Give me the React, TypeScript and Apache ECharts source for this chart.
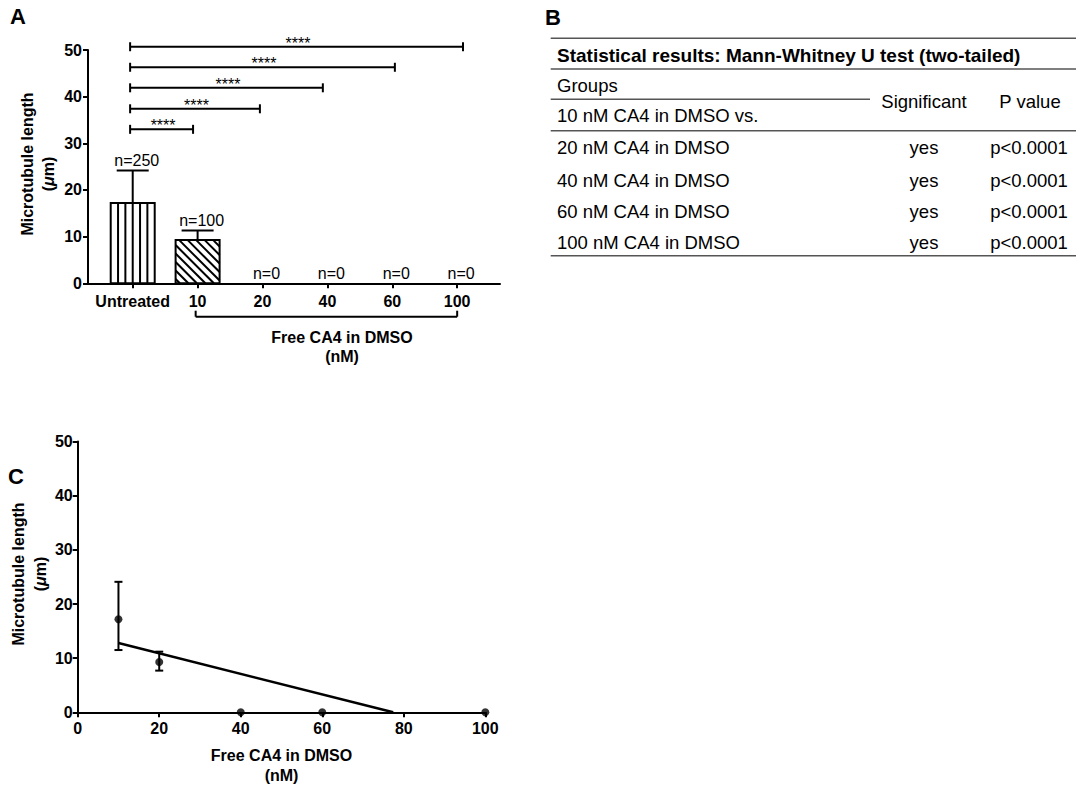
import React, { useEffect, useRef } from 'react';
import * as echarts from 'echarts';

const FONT = '"Liberation Sans", Arial, Helvetica, sans-serif';

// ---------- Panel A data ----------
const categories = ['Untreated', '10', '20', '40', '60', '100'];
const barMeans = [17.2, 9.3, 0, 0, 0, 0];
const barErrTop = [24.2, 11.3, 0, 0, 0, 0];
const barPatterns = ['vertical', 'diagonal', 'none', 'none', 'none', 'none'];
const nLabels = ['n=250', 'n=100', 'n=0', 'n=0', 'n=0', 'n=0'];
const yTicksA = [0, 10, 20, 30, 40, 50];
const sigStart = [-0.04, -0.04, -0.04, -0.04, -0.04];
const sigEnd = [0.93, 1.96, 2.93, 4.04, 5.09];
const sigY = [33.0, 37.4, 41.9, 46.3, 50.7];
const sigText = ['****', '****', '****', '****', '****'];
const groupSpan = [0.97, 5.0];
const xTitle = ['Free CA4 in DMSO', '(nM)'];
const yTitle = ['Microtubule length', '({i|μ}m)'];

// ---------- Panel B data ----------
const tableTitle = 'Statistical results: Mann-Whitney U test (two-tailed)';
const headGroups = 'Groups';
const headRef = '10 nM CA4 in DMSO vs.';
const headSig = 'Significant';
const headP = 'P value';
const compRows = ['20 nM CA4 in DMSO', '40 nM CA4 in DMSO', '60 nM CA4 in DMSO', '100 nM CA4 in DMSO'];
const compSig = ['yes', 'yes', 'yes', 'yes'];
const compP = ['p<0.0001', 'p<0.0001', 'p<0.0001', 'p<0.0001'];

// ---------- Panel C data ----------
const cX = [10, 20, 40, 60, 100];
const cMean = [17.2, 9.3, 0, 0, 0];
const cLow = [11.5, 7.7, 0, 0, 0];
const cHigh = [24.1, 11.2, 0, 0, 0];
const fitX = [10, 77.4];
const fitY = [12.8, 0];

const txt = (text: string, x: number, y: number, opts: any = {}) => ({
  type: 'text',
  x,
  y,
  rotation: opts.rotation || 0,
  style: {
    text,
    fill: '#000',
    fontFamily: FONT,
    fontSize: opts.fontSize || 16,
    fontWeight: opts.fontWeight || 'normal',
    align: opts.align || 'left',
    textAlign: opts.align || 'left',
    verticalAlign: 'middle',
    textVerticalAlign: 'middle',
    rich: opts.rich,
  },
});

const hline = (x1: number, x2: number, y: number, color = '#555', w = 1.5) => ({
  type: 'line',
  shape: { x1, y1: y, x2, y2: y },
  style: { stroke: color, lineWidth: w },
});

export default function App() {
  const ref = useRef<HTMLDivElement>(null);

  useEffect(() => {
    document.body.style.margin = '0';
    const chart = echarts.init(ref.current!, null, { renderer: 'svg' });

    const axisLabelStyle = { color: '#000', fontFamily: FONT, fontSize: 16, fontWeight: 'bold' };
    const axisLineStyle = { show: true, onZero: false, lineStyle: { color: '#000', width: 2 } };
    const axisTickStyle = { show: true, length: 5, lineStyle: { color: '#000', width: 2 } };
    const richMu = { i: { fontStyle: 'italic', fontWeight: 'bold', fontSize: 16, fontFamily: FONT, fill: '#000', color: '#000' } };

    const graphic: any[] = [];
    // panel letters
    graphic.push(txt('A', 10, 16.5, { fontSize: 22, fontWeight: 'bold' }));
    graphic.push(txt('B', 545, 17.5, { fontSize: 22, fontWeight: 'bold' }));
    graphic.push(txt('C', 8, 476, { fontSize: 22, fontWeight: 'bold' }));
    // panel A titles
    graphic.push(txt(yTitle[0], 27, 164, { fontWeight: 'bold', align: 'center', rotation: Math.PI / 2 }));
    graphic.push(txt(yTitle[1], 48, 174, { fontWeight: 'bold', align: 'center', rotation: Math.PI / 2, rich: richMu }));
    graphic.push(txt(xTitle[0], 342, 337.5, { fontWeight: 'bold', align: 'center' }));
    graphic.push(txt(xTitle[1], 342, 356.5, { fontWeight: 'bold', align: 'center' }));
    // panel C titles
    graphic.push(txt(yTitle[0], 18.5, 574, { fontWeight: 'bold', align: 'center', rotation: Math.PI / 2 }));
    graphic.push(txt(yTitle[1], 40.5, 574, { fontWeight: 'bold', align: 'center', rotation: Math.PI / 2, rich: richMu }));
    graphic.push(txt(xTitle[0], 281.5, 755, { fontWeight: 'bold', align: 'center' }));
    graphic.push(txt(xTitle[1], 281.5, 775, { fontWeight: 'bold', align: 'center' }));

    // panel B table
    const tL = 550.7, tR = 1076;
    graphic.push(hline(tL, tR, 38.3));
    graphic.push(txt(tableTitle, 557, 55, { fontSize: 19, fontWeight: 'bold' }));
    graphic.push(hline(tL, tR, 69));
    graphic.push(txt(headGroups, 557, 85, { fontSize: 18.5 }));
    graphic.push(hline(tL, 870, 99.3));
    graphic.push(txt(headRef, 557, 115.7, { fontSize: 18.5 }));
    graphic.push(txt(headSig, 924, 101, { fontSize: 18.5, align: 'center' }));
    graphic.push(txt(headP, 1030, 101, { fontSize: 18.5, align: 'center' }));
    graphic.push(hline(tL, tR, 130.7));
    const rowY = [147, 180, 211.5, 242];
    compRows.forEach((r, i) => {
      graphic.push(txt(r, 557, rowY[i], { fontSize: 18.5 }));
      graphic.push(txt(compSig[i], 924, rowY[i], { fontSize: 18.5, align: 'center' }));
      graphic.push(txt(compP[i], 1029, rowY[i], { fontSize: 18.5, align: 'center' }));
    });
    graphic.push(hline(tL, tR, 255.7));

    const barData = categories.map((c, i) => [i, barMeans[i], barErrTop[i]]);
    const sigData = sigStart.map((s, i) => [s, sigY[i], sigEnd[i]]);
    const errC = cX.map((x, i) => [x, cLow[i], cHigh[i]]).filter((d) => d[2] > d[1]);

    const option: any = {
      animation: false,
      backgroundColor: '#fff',
      grid: [
        { left: 88, top: 50, width: 412, height: 233.3, containLabel: false },
        { left: 77.7, top: 441.6, width: 407.6, height: 270.7, containLabel: false },
      ],
      xAxis: [
        {
          type: 'value',
          gridIndex: 0,
          min: -0.689,
          max: 5.66,
          axisLine: axisLineStyle,
          axisTick: { ...axisTickStyle, customValues: categories.map((c, i) => i) },
          axisLabel: {
            ...axisLabelStyle,
            margin: 10,
            customValues: categories.map((c, i) => i),
            formatter: (v: number) => categories[Math.round(v)] ?? '',
          },
          splitLine: { show: false },
        },
        {
          type: 'value',
          gridIndex: 1,
          min: 0,
          max: 100,
          interval: 20,
          axisLine: axisLineStyle,
          axisTick: axisTickStyle,
          axisLabel: { ...axisLabelStyle, margin: 8 },
          splitLine: { show: false },
        },
      ],
      yAxis: [
        {
          type: 'value',
          gridIndex: 0,
          min: yTicksA[0],
          max: yTicksA[yTicksA.length - 1],
          interval: 10,
          axisLine: axisLineStyle,
          axisTick: axisTickStyle,
          axisLabel: { ...axisLabelStyle, margin: 6 },
          splitLine: { show: false },
        },
        {
          type: 'value',
          gridIndex: 1,
          min: 0,
          max: 50,
          interval: 10,
          axisLine: axisLineStyle,
          axisTick: axisTickStyle,
          axisLabel: { ...axisLabelStyle, margin: 5 },
          splitLine: { show: false },
        },
      ],
      series: [
        {
          type: 'custom',
          xAxisIndex: 0,
          yAxisIndex: 0,
          clip: false,
          data: barData,
          renderItem: (params: any, api: any) => {
            const i = params.dataIndex;
            const x = api.value(0);
            const m = api.value(1);
            const et = api.value(2);
            const base = api.coord([x, 0]);
            const top = api.coord([x, m]);
            const children: any[] = [];
            let labelY = base[1];
            if (m > 0) {
              const hw = 22;
              const x0 = base[0] - hw, x1 = base[0] + hw, y0 = top[1], y1 = base[1];
              children.push({ type: 'rect', shape: { x: x0, y: y0, width: 2 * hw, height: y1 - y0 }, style: { fill: '#fff' } });
              const lines: any[] = [];
              if (barPatterns[i] === 'vertical') {
                const step = (2 * hw) / 6;
                for (let k = 1; k < 6; k++) {
                  const xx = x0 + k * step;
                  lines.push([xx, y0, xx, y1]);
                }
              } else if (barPatterns[i] === 'diagonal') {
                const s = 8.5;
                for (let c = x0 - y1 + s / 2; c < x1 - y0; c += s) {
                  const ya = Math.max(y0, x0 - c);
                  const yb = Math.min(y1, x1 - c);
                  if (yb > ya) lines.push([ya + c, ya, yb + c, yb]);
                }
              }
              lines.forEach((l) =>
                children.push({ type: 'line', shape: { x1: l[0], y1: l[1], x2: l[2], y2: l[3] }, style: { stroke: '#000', lineWidth: 2 } })
              );
              children.push({ type: 'rect', shape: { x: x0, y: y0, width: 2 * hw, height: y1 - y0 }, style: { fill: 'none', stroke: '#000', lineWidth: 2 } });
              const e = api.coord([x, et]);
              children.push({ type: 'line', shape: { x1: base[0], y1: y0, x2: base[0], y2: e[1] }, style: { stroke: '#000', lineWidth: 2 } });
              children.push({ type: 'line', shape: { x1: base[0] - 16, y1: e[1], x2: base[0] + 16, y2: e[1] }, style: { stroke: '#000', lineWidth: 2 } });
              labelY = e[1];
            }
            children.push({
              type: 'text',
              x: base[0] + 4,
              y: labelY - 10,
              style: {
                text: nLabels[i],
                fill: '#000',
                fontFamily: FONT,
                fontSize: 16,
                align: 'center',
                textAlign: 'center',
                verticalAlign: 'middle',
                textVerticalAlign: 'middle',
              },
            });
            return { type: 'group', children };
          },
        },
        {
          type: 'custom',
          xAxisIndex: 0,
          yAxisIndex: 0,
          clip: false,
          data: sigData,
          renderItem: (params: any, api: any) => {
            const i = params.dataIndex;
            const p0 = api.coord([api.value(0), api.value(1)]);
            const p1 = api.coord([api.value(2), api.value(1)]);
            const st = { stroke: '#000', lineWidth: 2 };
            return {
              type: 'group',
              children: [
                { type: 'line', shape: { x1: p0[0], y1: p0[1], x2: p1[0], y2: p1[1] }, style: st },
                { type: 'line', shape: { x1: p0[0], y1: p0[1] - 4.5, x2: p0[0], y2: p0[1] + 4.5 }, style: st },
                { type: 'line', shape: { x1: p1[0], y1: p1[1] - 4.5, x2: p1[0], y2: p1[1] + 4.5 }, style: st },
                {
                  type: 'text',
                  x: (p0[0] + p1[0]) / 2 + 1.5,
                  y: p0[1] - 3.5,
                  style: {
                    text: sigText[i],
                    fill: '#000',
                    fontFamily: FONT,
                    fontSize: 16,
                    align: 'center',
                    textAlign: 'center',
                    verticalAlign: 'middle',
                    textVerticalAlign: 'middle',
                  },
                },
              ],
            };
          },
        },
        {
          type: 'custom',
          xAxisIndex: 0,
          yAxisIndex: 0,
          clip: false,
          data: [[groupSpan[0], 0, groupSpan[1]]],
          renderItem: (params: any, api: any) => {
            const a = api.coord([api.value(0), api.value(1)]);
            const b = api.coord([api.value(2), api.value(1)]);
            const y = a[1] + 33.4;
            const st = { stroke: '#000', lineWidth: 2 };
            return {
              type: 'group',
              children: [
                { type: 'line', shape: { x1: a[0], y1: y, x2: b[0], y2: y }, style: st },
                { type: 'line', shape: { x1: a[0], y1: y, x2: a[0], y2: y - 6 }, style: st },
                { type: 'line', shape: { x1: b[0], y1: y, x2: b[0], y2: y - 6 }, style: st },
              ],
            };
          },
        },
        {
          type: 'custom',
          xAxisIndex: 1,
          yAxisIndex: 1,
          clip: false,
          data: errC,
          renderItem: (params: any, api: any) => {
            const lo = api.coord([api.value(0), api.value(1)]);
            const hi = api.coord([api.value(0), api.value(2)]);
            const st = { stroke: '#000', lineWidth: 2 };
            return {
              type: 'group',
              children: [
                { type: 'line', shape: { x1: lo[0], y1: lo[1], x2: hi[0], y2: hi[1] }, style: st },
                { type: 'line', shape: { x1: lo[0] - 4, y1: lo[1], x2: lo[0] + 4, y2: lo[1] }, style: st },
                { type: 'line', shape: { x1: hi[0] - 4, y1: hi[1], x2: hi[0] + 4, y2: hi[1] }, style: st },
              ],
            };
          },
        },
        {
          type: 'line',
          xAxisIndex: 1,
          yAxisIndex: 1,
          data: fitX.map((x, i) => [x, fitY[i]]),
          showSymbol: false,
          symbol: 'none',
          lineStyle: { color: '#000', width: 2.5 },
          clip: false,
        },
        {
          type: 'scatter',
          xAxisIndex: 1,
          yAxisIndex: 1,
          data: cX.map((x, i) => [x, cMean[i]]),
          symbol: 'circle',
          symbolSize: 8,
          itemStyle: { color: '#000' },
          clip: false,
        },
      ],
      graphic,
    };

    chart.setOption(option);
    return () => chart.dispose();
  }, []);

  return <div ref={ref} style={{ width: 1082, height: 787 }} />;
}
